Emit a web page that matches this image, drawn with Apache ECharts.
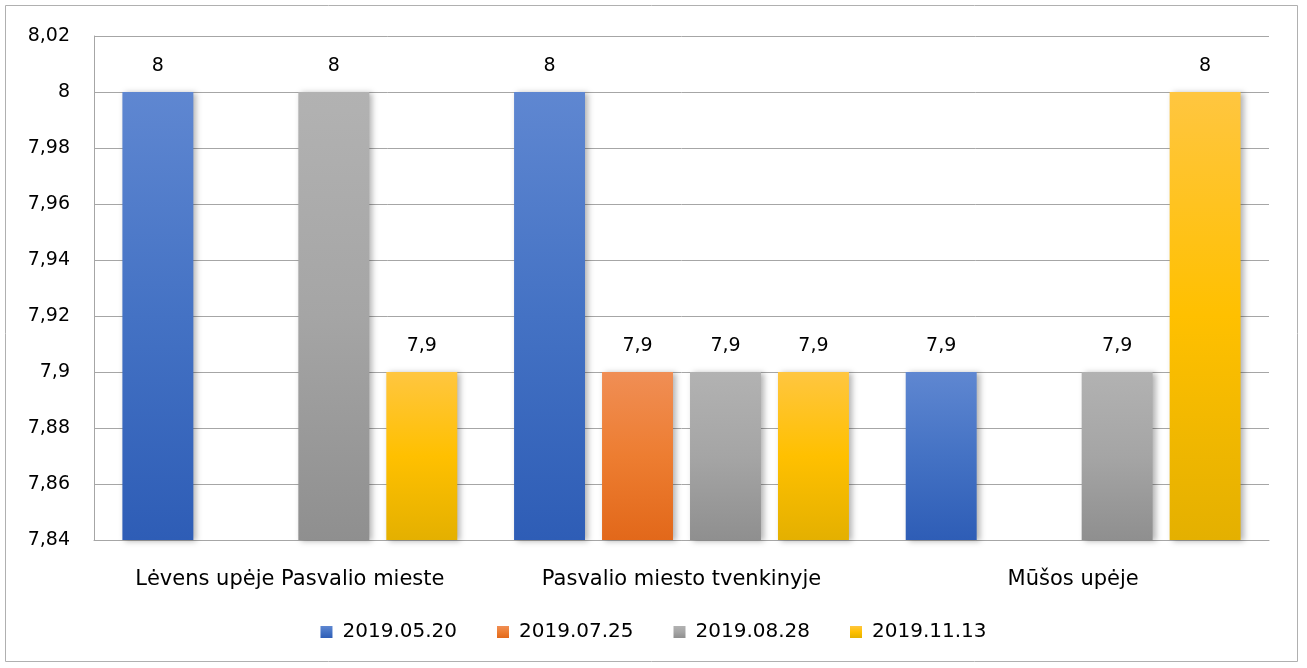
<!DOCTYPE html>
<html>
<head>
<meta charset="utf-8">
<script src="https://cdn.jsdelivr.net/npm/echarts@6/dist/echarts.min.js"></script>
<style>
  html, body { margin: 0; padding: 0; background: #fff; }
  #chart { width: 1307px; height: 668px; }
</style>
</head>
<body>
<div id="chart"></div>
<script>
// categories and series
const categories = ["Lėvens upėje Pasvalio mieste", "Pasvalio miesto tvenkinyje", "Mūšos upėje"];
const seriesNames = ["2019.05.20", "2019.07.25", "2019.08.28", "2019.11.13"];
const s0520 = [8, 8, 7.9];
const s0725 = [null, 7.9, null];
const s0828 = [8, 7.9, 7.9];
const s1113 = [7.9, 7.9, 8];
const yTicks = { min: 7.84, max: 8.02, step: 0.02 };

// top / middle / bottom colours of each bar gradient
const gradients = [
  ["#5f87d1", "#4472c4", "#2e5db6"],
  ["#f08e55", "#ed7d31", "#e2681a"],
  ["#b2b2b2", "#a5a5a5", "#8f8f8f"],
  ["#ffc640", "#ffc000", "#e4b000"]
];

const fontFamily = "'DejaVu Sans', sans-serif";
const comma = v => String(v).replace(".", ",");

const chart = echarts.init(document.getElementById("chart"));

const allData = [s0520, s0725, s0828, s1113];
const series = allData.map((d, i) => ({
  name: seriesNames[i],
  type: "bar",
  data: d,
  barGap: "24%",
  barCategoryGap: "14.5%",
  itemStyle: {
    color: new echarts.graphic.LinearGradient(0, 0, 0, 1, [
      { offset: 0, color: gradients[i][0] },
      { offset: 0.5, color: gradients[i][1] },
      { offset: 1, color: gradients[i][2] }
    ]),
    shadowBlur: 6,
    shadowOffsetX: 3,
    shadowOffsetY: 1,
    shadowColor: "rgba(0,0,0,0.3)"
  },
  label: {
    show: true,
    position: "top",
    distance: 16,
    color: "#000",
    fontSize: 19,
    fontFamily: fontFamily,
    formatter: p => comma(p.value)
  }
}));

chart.setOption({
  backgroundColor: "#fff",
  animation: false,
  color: gradients.map(g => g[1]),
  graphic: [
    {
      type: "rect",
      shape: { x: 5.5, y: 5.5, width: 1292, height: 656 },
      style: { fill: "none", stroke: "#b0b0b0", lineWidth: 1 },
      silent: true
    }
  ],
  grid: { left: 94, right: 38, top: 36, bottom: 128 },
  legend: {
    bottom: 21,
    left: "center",
    itemWidth: 12,
    itemHeight: 12,
    itemGap: 40,
    icon: "rect",
    textStyle: { fontSize: 20, color: "#000", fontFamily: fontFamily, padding: [0, 0, 0, 5] },
    data: seriesNames
  },
  xAxis: {
    type: "category",
    data: categories,
    axisLine: { show: true, lineStyle: { color: "#a6a6a6", width: 1 } },
    axisTick: { show: false },
    axisLabel: { interval: 0, margin: 29, fontSize: 21, color: "#000", fontFamily: fontFamily }
  },
  yAxis: {
    type: "value",
    min: yTicks.min,
    max: yTicks.max,
    interval: yTicks.step,
    axisLine: { show: true, lineStyle: { color: "#a6a6a6", width: 1 } },
    axisTick: { show: false },
    splitLine: { show: true, lineStyle: { color: "#a6a6a6", width: 1 } },
    axisLabel: {
      margin: 24,
      fontSize: 19,
      color: "#000",
      fontFamily: fontFamily,
      formatter: v => comma(parseFloat(v.toFixed(2)))
    }
  },
  series: series
});
</script>
</body>
</html>
